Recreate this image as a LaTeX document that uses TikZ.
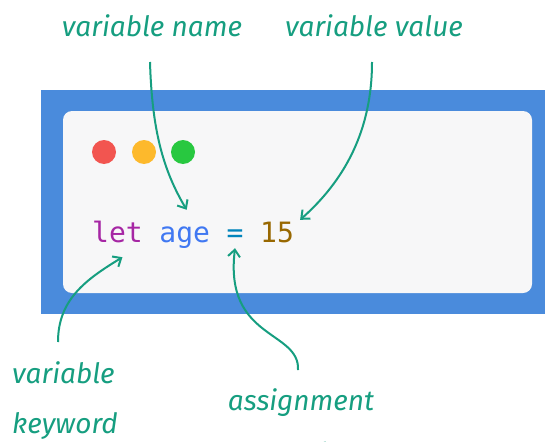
\documentclass[tikz,border=0pt]{standalone}
\usepackage{fontspec}
\newfontfamily\codefont{DejaVu Sans Mono}
\newfontfamily\notefont{Fira Sans}
\usetikzlibrary{arrows.meta}
\definecolor{note}{RGB}{22,158,128}
\definecolor{frameblue}{RGB}{74,139,220}
\definecolor{panel}{RGB}{247,247,248}
\definecolor{kwpurple}{RGB}{166,38,164}
\definecolor{idblue}{RGB}{64,120,242}
\definecolor{opblue}{RGB}{1,132,188}
\definecolor{numbrown}{RGB}{152,104,1}
\definecolor{dotred}{RGB}{242,85,80}
\definecolor{dotorange}{RGB}{253,185,44}
\definecolor{dotgreen}{RGB}{40,200,64}
\begin{document}
\begin{tikzpicture}[x=1pt,y=-1pt,
  lbl/.style={text=note,font=\notefont\itshape\fontsize{28}{28}\selectfont,inner sep=0pt,anchor=base},
  tok/.style={anchor=base west,inner sep=0pt,font=\codefont\fontsize{28}{28}\selectfont,text height=22pt,text depth=6pt},
  pointer/.style={note,line width=2pt,-{Straight Barb[length=7pt,width=12pt,line width=2pt]}}]
\clip (0,0) rectangle (545,441);
\fill[frameblue] (41,90) rectangle (560,314);
\fill[panel,rounded corners=9pt] (63,111) rectangle (532,293);
\fill[dotred] (104,152) circle (12pt);
\fill[dotorange] (144,152) circle (12pt);
\fill[dotgreen] (183,152) circle (12pt);
\node[tok,text=kwpurple](tlet) at (92,242){let};
\node[tok,text=idblue](tage) at (159.2,242){age};
\node[tok,text=opblue](teq) at (226.4,242){=};
\node[tok,text=numbrown](tval) at (260,242){15};
\node[lbl](lname) at (152,37){variable name};
\node[lbl](lvalue) at (374,37){variable value};
\node[lbl,anchor=base west](lkey) at (12,383){variable};
\node[lbl,anchor=base west](lkeyb) at (12,433){keyword};
\node[lbl](lassign) at (301,410){assignment};
\node[lbl](lassignb) at (301,460){operator};
\coordinate(sname) at (150,62);
\coordinate(svalue) at (372,62);
\coordinate(skey) at (58,342);
\coordinate(sassign) at (298,370);
\draw[pointer] (sname) .. controls (152,130) and (163,170) .. ([xshift=2pt,yshift=10pt]tage.north);
\draw[pointer] (svalue) .. controls (372,130) and (345,180) .. ([xshift=6pt]tval.north east);
\draw[pointer] (skey) .. controls (58,300) and (85,280) .. ([xshift=5pt,yshift=-9pt]tlet.south);
\draw[pointer] (sassign) .. controls (300,330) and (224,340) .. (teq.south);
\end{tikzpicture}
\end{document}
